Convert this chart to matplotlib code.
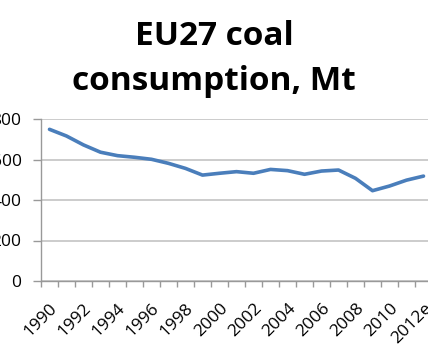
import numpy as np
import matplotlib.pyplot as plt

plt.rcParams['font.family'] = ['Open Sans', 'DejaVu Sans']

years = [str(y) for y in range(1990, 2012)] + ['2012e']
coal_mt = [749, 716, 672, 636, 619, 611, 601, 581, 556, 523, 532, 540,
           532, 551, 545, 527, 543, 548, 507, 446, 469, 498, 518]
y_ticks = [0, 200, 400, 600, 800]
title_lines = ['EU27 coal', 'consumption, Mt']

fig = plt.figure(figsize=(4.28, 3.57), dpi=100)
ax = fig.add_axes([41 / 428, 76 / 357, 391 / 428, 162 / 357])

x = np.arange(len(years))
ax.plot(x, coal_mt, color='#4A7EBB', lw=2.6, solid_capstyle='round',
        solid_joinstyle='round', zorder=3)

ax.set_xlim(-0.5, len(years) - 0.5)
ax.set_ylim(0, 800)
ax.set_yticks(y_ticks)
ax.set_yticklabels([str(v) for v in y_ticks], fontsize=12.5)
ax.yaxis.grid(True, color='#BFBFBF', lw=1.1)
ax.set_axisbelow(True)

ax.set_xticks(x[::2])
ax.set_xticklabels(years[::2], rotation=45, ha='right',
                   rotation_mode='anchor', fontsize=12.5)
ax.set_xticks(np.arange(len(years) + 1) - 0.5, minor=True)
ax.tick_params(axis='x', which='major', length=0, pad=14)
ax.tick_params(axis='x', which='minor', length=4, color='#999999', width=1)
ax.tick_params(axis='y', length=6, color='#999999', width=1, pad=8)

for side in ['top', 'right']:
    ax.spines[side].set_visible(False)
for side in ['left', 'bottom']:
    ax.spines[side].set_color('#999999')
    ax.spines[side].set_linewidth(1)

# two title lines placed by baseline
for line, base_px in zip(title_lines, [45, 90]):
    fig.text(0.5, 1 - base_px / 357, line, ha='center', va='baseline',
             fontsize=24, fontweight='bold')

fig.savefig('out.png', dpi=100)
